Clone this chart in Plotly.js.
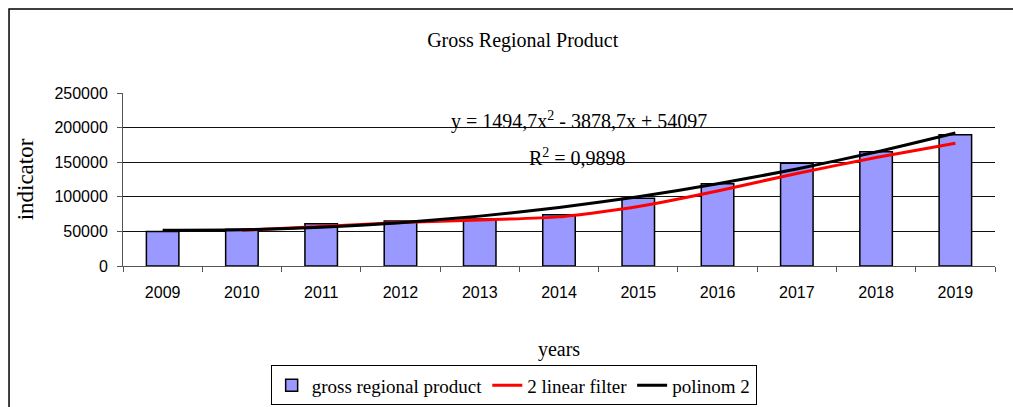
<!DOCTYPE html>
<html>
<head>
<meta charset="utf-8">
<script src="https://cdn.plot.ly/plotly-3.0.1.min.js"></script>
<style>
  html, body { margin: 0; padding: 0; background: #fff; }
  #chart { width: 1013px; height: 407px; }
</style>
</head>
<body>
<div id="chart"></div>
<script>
// values
const years = ['2009', '2010', '2011', '2012', '2013', '2014', '2015', '2016', '2017', '2018', '2019'];
const grossProduct = [50000, 53000, 61000, 65000, 68000, 74000, 98000, 119000, 148500, 165000, 189500];
// 2 period moving average (no value for the first year)
const linearFilter = [null, 51500, 57000, 63000, 66500, 71000, 86000, 108500, 133750, 156750, 177250];
// polynomial trend line, order 2
const polinom2 = [51713, 52318, 55913, 62497, 72071, 84634, 100186, 118728, 140259, 164780, 192290];

const serif = '"Liberation Serif", "Times New Roman", serif';
const sans = '"Liberation Sans", Arial, sans-serif';

const traces = [
  {
    type: 'bar',
    name: 'gross regional product',
    x: years,
    y: grossProduct,
    marker: { color: '#9999FF', line: { color: '#000', width: 1.5 } }
  },
  {
    type: 'scatter',
    mode: 'lines',
    name: '2 linear filter',
    x: years,
    y: linearFilter,
    line: { color: '#FF0000', width: 3, shape: 'spline', smoothing: 0.6 }
  },
  {
    type: 'scatter',
    mode: 'lines',
    name: 'polinom 2',
    x: years,
    y: polinom2,
    line: { color: '#000', width: 3, shape: 'spline', smoothing: 0.6 }
  }
];

const layout = {
  width: 1013,
  height: 407,
  // the legend sits below the plot, keep it from pushing the margins
  margin: { l: 123, r: 18, t: 93, b: 141, autoexpand: false },
  paper_bgcolor: '#fff',
  plot_bgcolor: '#fff',
  showlegend: true,
  bargap: 0.59,
  title: {
    text: 'Gross Regional Product',
    font: { family: serif, size: 20, color: '#000' },
    xref: 'container',
    yref: 'container',
    x: 0.516,
    xanchor: 'center',
    y: 0.902,
    yanchor: 'middle'
  },
  xaxis: {
    type: 'category',
    tickson: 'boundaries',
    ticks: 'outside',
    ticklen: 5,
    tickcolor: '#555',
    showline: true,
    linecolor: '#555',
    linewidth: 1,
    showgrid: false,
    ticklabelstandoff: 12,
    tickfont: { family: sans, size: 16, color: '#000' },
    title: {
      text: 'years',
      font: { family: serif, size: 20, color: '#000' },
      standoff: 41
    }
  },
  yaxis: {
    range: [0, 250000],
    dtick: 50000,
    tickformat: 'd',
    ticks: 'outside',
    ticklen: 5,
    tickcolor: '#555',
    showline: true,
    linecolor: '#555',
    linewidth: 1,
    gridcolor: '#111',
    gridwidth: 1,
    zeroline: false,
    ticklabelstandoff: 6,
    tickfont: { family: sans, size: 16, color: '#000' },
    title: {
      text: 'indicator',
      font: { family: serif, size: 23, color: '#000' },
      standoff: 14
    }
  },
  legend: {
    orientation: 'h',
    x: 0.448,
    xanchor: 'center',
    y: -0.575,
    yanchor: 'top',
    bgcolor: '#fff',
    bordercolor: '#000',
    borderwidth: 1,
    font: { family: serif, size: 19, color: '#000' }
  },
  // trend line equation and R squared
  annotations: [
    {
      text: 'y = 1494,7x<sup>2</sup> - 3878,7x + 54097',
      xref: 'paper', yref: 'paper',
      x: 0.523, y: 0.84,
      xanchor: 'center', yanchor: 'middle',
      showarrow: false,
      font: { family: serif, size: 20, color: '#000' }
    },
    {
      text: 'R<sup>2</sup> = 0,9898',
      xref: 'paper', yref: 'paper',
      x: 0.521, y: 0.63,
      xanchor: 'center', yanchor: 'middle',
      showarrow: false,
      font: { family: serif, size: 20, color: '#000' }
    }
  ],
  // outer chart area frame, its right and bottom sides are off the picture
  shapes: [
    {
      type: 'rect',
      xref: 'paper', yref: 'paper',
      x0: -0.1307, x1: 1.1,
      y0: -1.2, y1: 1.4855,
      line: { color: '#000', width: 1.5 }
    }
  ]
};

Plotly.newPlot('chart', traces, layout, { displayModeBar: false, staticPlot: true });
</script>
</body>
</html>
